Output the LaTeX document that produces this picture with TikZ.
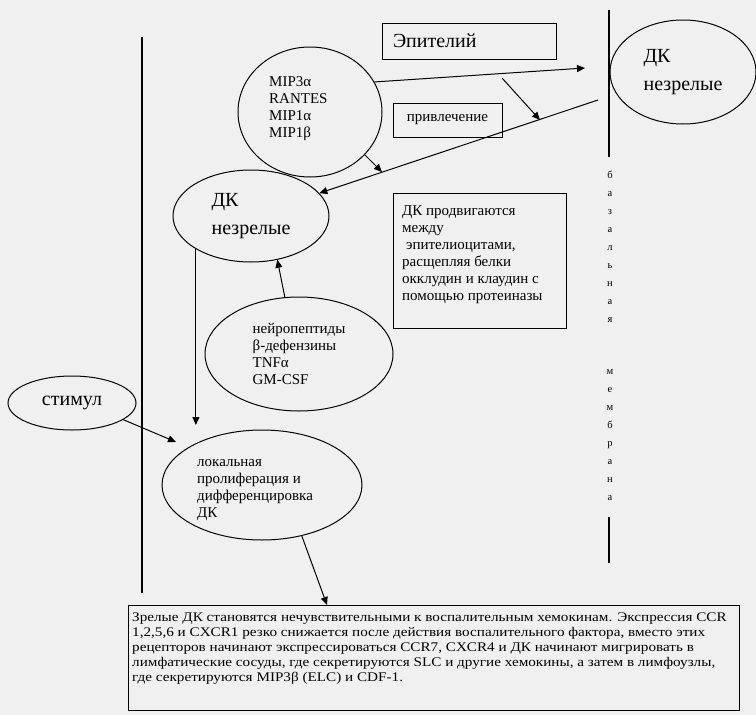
\documentclass[tikz,border=0pt]{standalone}
\usepackage{fontspec}
\setmainfont{Liberation Serif}
\newfontfamily\infofont[FakeStretch=1.15]{Liberation Serif}
\usetikzlibrary{arrows.meta, positioning, shapes.geometric}

\tikzset{
  oval/.style={draw, ellipse, line width=1pt, inner sep=0pt},
  frame/.style={draw, rectangle, line width=1pt, inner sep=0pt},
  arr/.style={-{Triangle[length=8pt, width=7pt]}, line width=1pt},
  bigtxt/.style={font=\fontsize{20}{28}\selectfont, align=left},
  midtxt/.style={font=\fontsize{15}{17}\selectfont, align=left, inner sep=0pt},
  memtxt/.style={font=\fontsize{10.5}{18}\selectfont, align=center, inner sep=0pt},
}

\begin{document}
\begin{tikzpicture}[x=1pt, y=-1pt]
  \useasboundingbox[fill=black!6] (0,0) rectangle (756,715);

  \draw[line width=1.2pt] (142,37) -- (142,593);
  \draw[line width=1.2pt] (609,10) -- (609,157);
  \draw[line width=1.2pt] (609,517) -- (609,563);
  \node[memtxt] (bazal) at (610,247) {б\\а\\з\\а\\л\\ь\\н\\а\\я};
  \node[memtxt] (membr) at (610,435) {м\\е\\м\\б\\р\\а\\н\\а};

  \node[frame, bigtxt, minimum height=36pt, text width=152pt, inner xsep=11pt] (epit) at (469,41) {Эпителий};
  \node[frame, font=\fontsize{15}{17}\selectfont, minimum width=109pt, minimum height=34pt] (attr) at (447.5,120) {привлечение};
  \node[frame, minimum width=173pt, minimum height=135pt] (move) at (479.5,260.5) {};
  \node[midtxt, anchor=north west] (movetxt) at (402,205) {ДК продвигаются\\между\\\hspace{4pt}эпителиоцитами,\\расщепляя белки\\окклудин и клаудин с\\помощью протеиназы};

  \node[oval, minimum width=144pt, minimum height=130pt] (mip) at (310,112) {};
  \node[midtxt, anchor=north west] (miptxt) at (269,76) {MIP3α\\RANTES\\MIP1α\\MIP1β};
  \node[oval, bigtxt, minimum width=146pt, minimum height=104pt] (dk2) at (683,72) {ДК\\незрелые};
  \node[oval, bigtxt, minimum width=156pt, minimum height=92pt] (dk1) at (251,216) {ДК\\незрелые};
  \node[oval, midtxt, minimum width=188pt, minimum height=114pt] (neu) at (299,354) {нейропептиды\\β-дефензины\\TNFα\\GM-CSF};
  \node[oval, bigtxt, minimum width=128pt, minimum height=54pt] (stim) at (72,403) {стимул};
  \node[oval, minimum width=200pt, minimum height=110pt] (loc) at (262,485) {};
  \node[midtxt, anchor=north west] (loctxt) at (197,459) {локальная\\пролиферация и\\дифференцировка\\ДК};

  \node[frame, minimum width=611pt, minimum height=105pt] (info) at (433.5,657.5) {};
  \node[anchor=north west, inner sep=0pt, align=left, font=\infofont\fontsize{13.2}{15}\selectfont] (infotxt) at (132,613) {Зрелые ДК становятся нечувствительными к воспалительным хемокинам. Экспрессия CCR\\1,2,5,6 и CXCR1 резко снижается после действия воспалительного фактора, вместо этих\\рецепторов начинают экспрессироваться CCR7, CXCR4 и ДК начинают мигрировать в\\лимфатические сосуды, где секретируются SLC и другие хемокины, а затем в лимфоузлы,\\где секретируются MIP3β (ELC) и CDF-1.};

  \coordinate (tipA) at (585,68);
  \coordinate (memA) at (598,100);
  \coordinate (kinkS) at (502,78);
  \coordinate (kinkE) at (540,120);
  \coordinate (mipE) at (382,172);
  \coordinate (dkdown) at (197,425);
  \coordinate (stimtip) at (176,442);
  \coordinate (infotip) at (327,605);

  \draw[arr] (mip.25) -- (tipA);
  \draw[arr] (kinkS) -- (kinkE);
  \draw[arr] (memA) -- (dk1);
  \draw[arr] (mip.-38) -- (mipE);
  \draw[arr] (dk1.211) -- (dk1.211 |- dkdown);
  \draw[arr] (neu.104) -- (dk1.-59);
  \draw[arr] (stim.-18) -- (stimtip);
  \draw[arr] (loc.-52) -- (infotip);
\end{tikzpicture}
\end{document}
